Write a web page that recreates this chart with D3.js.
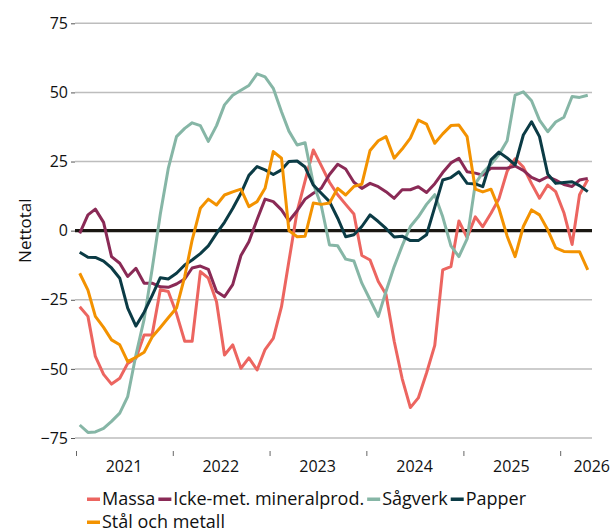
<html>
<head>
<script src="https://d3js.org/d3.v7.min.js"></script>
<style>
body { margin:0; background:#fff; }
text { font-family: "Open Sans", "Noto Sans", sans-serif; }
</style>
</head>
<body>
<script>

var width = 611;
var height = 532;

// monthly series, Jan 2021 - Apr 2026
var massa = [-27.5,-31,-45.5,-52,-55.5,-53.4,-48,-46.2,-37.7,-37.7,-21.4,-22,-30,-40,-40,-14.8,-17.2,-25.7,-45,-41.3,-49.8,-46,-50.4,-43,-39,-27.5,-11,7,18,29.2,23.5,17.5,13,9.5,6,-9,-10.6,-18.4,-23,-40,-53.5,-64,-60.5,-51.5,-41.5,-14.2,-13,3.5,-2.5,5,1.4,6.3,11.5,21.5,26,23,17,11.7,16.5,14.1,6.5,-5,13,18.5];
var icke = [-1,5.7,7.8,3,-9.4,-11.8,-16.6,-13.6,-19,-19,-20.3,-20.5,-19.3,-17.5,-13.5,-12.8,-14,-22,-23.9,-19.5,-9,-4,4,11.4,10.5,7.5,3.5,7.2,11.4,13.5,15.3,20.3,24,22.3,17.5,15.3,17.1,15.9,14.1,11.7,14.8,14.8,15.9,13.8,17,21,24.5,26.2,21.3,20.8,20.1,22.6,22.6,22.6,23.4,21.8,19.3,18,19.5,18.3,16.7,16,18.3,18.9];
var sagverk = [-70.3,-73,-72.8,-71.5,-69,-66,-60,-45,-32,-14,6,22.5,34,37,39,38,32.3,38,45.5,49,50.8,52.5,56.7,55.6,51.5,43,36,31,31.8,17,9,-5.2,-5.5,-10.3,-11,-19,-25,-31,-22,-13,-5.5,1.5,5,9.5,13,5,-5.5,-9.4,-3,17,21,24,27.5,32.5,49,50.2,47,40,35.8,39.3,41,48.5,48.2,49];
var papper = [-7.8,-9.6,-9.7,-11,-13.5,-17.2,-28,-34.5,-29.5,-23.5,-17,-17.5,-15.4,-12.4,-10.6,-8.3,-5.5,-1,3,8,13.5,20,23.2,22,20.3,22,25,25.2,23,16.5,13.5,10.5,4.5,-2.2,-1.5,1.5,5.7,3.3,0.8,-2.3,-2,-3.6,-3.6,-1.5,8.5,18.3,19.2,21.3,17.1,16.9,15.9,25.6,28.4,26.3,23.8,34.6,39.4,34,20.5,17.1,17.4,17.7,16.3,14.1];
var stal = [-15.4,-21.5,-31,-35,-39.5,-41.3,-47.4,-45.8,-44,-38.5,-35,-31.5,-28,-16.6,-3.4,8.1,11.4,9.3,12.9,14,15,8.7,10.5,15.3,28.6,26.2,0,-2.2,-2,10,9.5,10,15.3,12.9,16,16.8,29,32.5,34,26.2,29.5,33.5,40,38.5,31.6,35,38,38.2,34,15,14,15,8,-2,-9.4,1.5,7.5,5.7,0.3,-6.2,-7.5,-7.6,-7.6,-14.2];

var names = ["Massa", "Icke-met. mineralprod.", "Sågverk", "Papper", "Stål och metall"];
var colors = ["#EC6560", "#8A2A56", "#86B6A6", "#0B3B45", "#F39200"];
var yTicks = [-75, -50, -25, 0, 25, 50, 75];
var years = [2021, 2022, 2023, 2024, 2025, 2026];

var series = [massa, icke, sagverk, papper, stal];
var dates = massa.map(function(d, i) { return new Date(2021, i, 15); });

var x = d3.scaleTime()
    .domain([new Date(2021, 0, 1), new Date(2026, 4, 1)])
    .range([76, 592]);

var y = d3.scaleLinear()
    .domain([-75, 75])
    .range([438, 23.3]);

var svg = d3.select("body").append("svg")
    .attr("width", width)
    .attr("height", height);

// gridlines
svg.append("g")
  .selectAll("line")
  .data(yTicks.filter(function(d) { return d != 0; }))
  .enter().append("line")
    .attr("x1", x.range()[0] - 1)
    .attr("x2", x.range()[1])
    .attr("y1", function(d) { return y(d); })
    .attr("y2", function(d) { return y(d); })
    .attr("stroke", "#bdbdbd")
    .attr("stroke-width", 1.5);

// y axis labels + small ticks
var yAxis = svg.append("g")
    .attr("transform", "translate(" + (x.range()[0] - 1) + ",0)")
    .call(d3.axisLeft(y).tickValues(yTicks).tickSize(4).tickPadding(3));
yAxis.select(".domain").remove();
yAxis.selectAll(".tick line").attr("stroke", "#555").attr("stroke-width", 1);
yAxis.selectAll("text")
    .attr("font-size", 16)
    .attr("fill", "#111")
    .style("font-family", "'Open Sans', sans-serif");

// zero line
svg.append("line")
    .attr("x1", x.range()[0] - 1)
    .attr("x2", x.range()[1])
    .attr("y1", y(0))
    .attr("y2", y(0))
    .attr("stroke", "#1a1712")
    .attr("stroke-width", 3.2);

// x axis: ticks at year starts, labels mid-year
var xAxis = svg.append("g")
    .attr("transform", "translate(0,451)")
    .call(d3.axisBottom(x)
      .tickValues(years.map(function(yr) { return new Date(yr, 0, 1); }))
      .tickSize(5)
      .tickFormat(""));
xAxis.select(".domain").remove();
xAxis.selectAll(".tick line").attr("stroke", "#666").attr("stroke-width", 1);

svg.append("g")
  .selectAll("text")
  .data(years)
  .enter().append("text")
    .attr("y", 472)
    .attr("text-anchor", "middle")
    .attr("font-size", 16)
    .attr("fill", "#111")
    .text(function(d) { return d; })
    .attr("x", function(d) {
      var cx = x(new Date(d, 6, 1));
      var w = this.getComputedTextLength();
      return Math.min(cx, width - 1 - w / 2);
    });

// y title
svg.append("text")
    .attr("transform", "translate(31," + y(0) + ") rotate(-90)")
    .attr("text-anchor", "middle")
    .attr("font-size", 17)
    .attr("fill", "#111")
    .text("Nettotal");

// lines
var line = d3.line()
    .x(function(d, i) { return x(dates[i]); })
    .y(function(d) { return y(d); });

svg.append("g")
  .selectAll("path")
  .data(series)
  .enter().append("path")
    .attr("d", line)
    .attr("fill", "none")
    .attr("stroke", function(d, i) { return colors[i]; })
    .attr("stroke-width", 3)
    .attr("stroke-linejoin", "round");

// legend
var legend = svg.append("g");
var lx = 87, ly = 505;
names.forEach(function(n, i) {
  var g = legend.append("g");
  var t = g.append("text")
      .attr("x", 15)
      .attr("y", 0)
      .attr("font-size", 18)
      .attr("fill", "#111")
      .text(n);
  var w = 15 + t.node().getComputedTextLength();
  if (lx + w > width - 4) { lx = 87; ly += 23; }
  g.attr("transform", "translate(" + lx + "," + ly + ")");
  g.append("rect")
      .attr("x", 0)
      .attr("y", -7.5)
      .attr("width", 13)
      .attr("height", 3.5)
      .attr("fill", colors[i]);
  lx += w + 3;
});

</script>
</body>
</html>
